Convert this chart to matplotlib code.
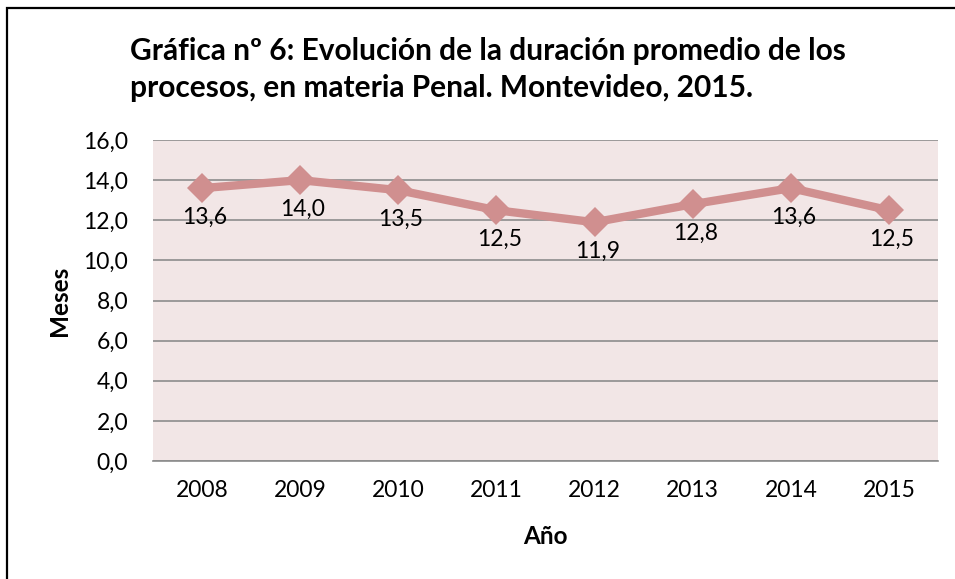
import matplotlib.pyplot as plt
from matplotlib.patches import Rectangle

# Datos de la gráfica
anios = ["2008", "2009", "2010", "2011", "2012", "2013", "2014", "2015"]
meses = [13.6, 14.0, 13.5, 12.5, 11.9, 12.8, 13.6, 12.5]
etiquetas = ["13,6", "14,0", "13,5", "12,5", "11,9", "12,8", "13,6", "12,5"]
yticks = [0, 2, 4, 6, 8, 10, 12, 14, 16]
titulo = ["Gráfica nº 6: Evolución de la duración promedio de los",
          "procesos, en materia Penal. Montevideo, 2015."]

plt.rcParams['font.family'] = ['Lato', 'DejaVu Sans']

W, H = 955, 579
fig = plt.figure(figsize=(W / 100, H / 100), dpi=100)
ax = fig.add_axes([153 / W, 1 - 461 / H, (938 - 153) / W, (461 - 140) / H])

# Borde exterior (solo visible arriba e izquierda)
fig.patches.append(Rectangle((7 / W, -0.1), 1.2, 1 - 8 / H + 0.1, transform=fig.transFigure,
                             fill=False, edgecolor='black', linewidth=1.6))

ax.set_facecolor('#f2e6e6')
x = range(len(anios))
ax.plot(x, meses, color='#d08f8f', linewidth=6, marker='D', markersize=15,
        markeredgewidth=0, zorder=3)
for xi, yi, t in zip(x, meses, etiquetas):
    ax.annotate(t, (xi, yi), xytext=(2, -21), textcoords='offset points',
                ha='center', va='center', fontsize=16.5)

ax.set_xlim(-0.5, len(anios) - 0.5)
ax.set_ylim(0, 16)
ax.set_yticks(yticks)
ax.set_yticklabels([f"{v:.1f}".replace('.', ',') for v in yticks], fontsize=16.5)
ax.set_xticks(list(x))
ax.set_xticklabels(anios, fontsize=16.5)
ax.tick_params(axis='y', length=0, pad=18)
ax.tick_params(axis='x', length=0, pad=14)
ax.grid(axis='y', color='#8c8c8c', linewidth=1.2)
ax.set_axisbelow(True)
for s in ['top', 'right', 'left']:
    ax.spines[s].set_visible(False)
ax.spines['bottom'].set_color('#8c8c8c')
ax.spines['bottom'].set_linewidth(1.2)

ax.set_xlabel("Año", fontsize=17.5, fontweight='bold')
ax.set_ylabel("Meses", fontsize=17.5, fontweight='bold')
ax.xaxis.label.set_va('center')
ax.xaxis.set_label_coords(0.5, -(537 - 461) / 321)
ax.yaxis.set_label_coords(-(153 - 71) / 785, 0.5)

fig.text(130 / W, 1 - 60 / H, titulo[0], fontsize=21.5, fontweight='bold',
         ha='left', va='baseline')
fig.text(130 / W, 1 - 97 / H, titulo[1], fontsize=21.5, fontweight='bold',
         ha='left', va='baseline')

fig.savefig('out.png', dpi=100)
